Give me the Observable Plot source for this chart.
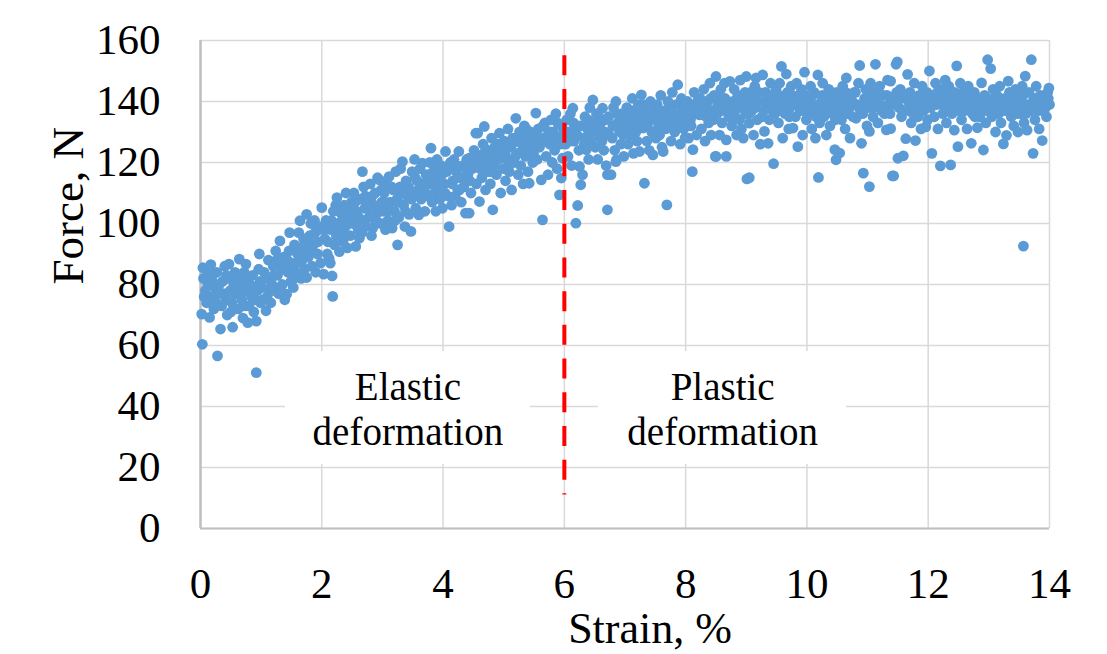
<!DOCTYPE html>
<html>
<head>
<meta charset="utf-8">
<script src="https://cdn.jsdelivr.net/npm/d3@7"></script>
<script src="https://cdn.jsdelivr.net/npm/@observablehq/plot@0.6"></script>
<style>
  html, body { margin: 0; padding: 0; background: #fff; }
</style>
</head>
<body>
<div id="chart"></div>
<script>
// Tick values
const xTicks = [0, 2, 4, 6, 8, 10, 12, 14];
const yTicks = [0, 20, 40, 60, 80, 100, 120, 140, 160];

const points = [
[0.02,70.3],[0.03,60.4],[0.05,82],[0.04,85.5],[0.08,78],[0.1,74],[0.12,80],[0.15,69.2],[0.17,86.5],[0.18,76],[0.2,83],[0.22,72],[0.24,79],
[0.28,56.6],[0.27,84],[0.3,77],[0.33,65.4],[0.35,73],[0.36,81],[0.4,86],[0.42,75],[0.44,70],[0.46,82],[0.47,86.7],[0.49,78],
[0.53,66],[0.52,74],[0.55,80],[0.57,84],[0.6,77],[0.62,72],[0.64,88.3],[0.66,81],[0.68,75],[0.7,69],[0.72,84],[0.74,78],
[0.75,86.7],[0.78,67.5],[0.8,73],[0.82,80],[0.84,76],[0.86,83],[0.88,71],[0.92,68],[0.92,51.1],[0.94,78],[0.96,85],[0.97,90],[0.99,74],
[1.02,79],[1.05,84],[1.08,71.4],[1.1,76],[1.12,88],[1.14,82],[1.16,74],[1.18,80],[1.2,86],[1.22,78],[1.24,91],
[1.27,83],[1.29,77],[1.31,94.3],[1.33,86],[1.35,80],[1.37,89],[1.39,75],[1.42,76.8],[1.44,84],[1.46,91],[1.47,97],[1.49,81],
[1.51,87],[1.53,79],[1.55,93],[1.57,84],[1.6,90],[1.62,97],[1.64,100.9],[1.66,82],[1.68,88],[1.7,95],[1.72,85],[1.74,92],
[1.75,103],[1.75,82.3],[1.78,89],[1.8,96],[1.82,100],[1.84,86],[1.86,93],[1.88,101],[1.9,84],[1.93,90],[1.95,98],[1.98,87],[2.0,105.2],
[2.03,83.4],[2.05,95],[2.07,101],[2.09,90],[2.12,88.6],[2.14,87],[2.15,98],[2.17,82.8],[2.18,76.1],[2.19,104],[2.21,93],[2.23,106],[2.24,96],
[2.25,108.5],[2.27,100],[2.29,90.8],[2.31,97],[2.33,103],[2.35,94],[2.37,106],[2.39,99],[2.4,110],[2.42,92],[2.44,102],[2.47,96],[2.49,107],
[2.51,100],[2.53,110],[2.56,92.5],[2.58,104],[2.6,98],[2.62,95.2],[2.64,108],[2.65,101],[2.67,117],[2.69,112],[2.71,105],[2.73,99],
[2.76,108],[2.78,102],[2.8,113],[2.82,96],[2.84,98.5],[2.86,106],[2.88,110],[2.9,103],[2.92,115],[2.95,114.3],[2.97,100],[2.99,107],
[3.01,104],[3.03,110],[3.05,98],[3.07,113],[3.09,101],[3.11,115.4],[3.13,107],[3.16,98.5],[3.18,111],[3.2,104],[3.22,117],[3.24,108],
[3.25,93],[3.27,102],[3.29,112],[3.3,118],[3.33,120.3],[3.35,106],[3.37,99],[3.39,114],[3.41,109],[3.44,103],[3.47,97.4],[3.49,117],
[3.51,110],[3.53,121],[3.55,105],[3.57,114],[3.6,102.8],[3.62,118],[3.64,108],[3.66,119.8],[3.68,112],[3.7,104],[3.72,116],[3.74,109],
[3.76,113],[3.78,120],[3.8,124.7],[3.82,107],[3.84,117],[3.86,110],[3.88,104],[3.9,121],[3.92,115],[3.95,108],[3.97,119],[3.99,105],
[4.02,113],[4.04,123.6],[4.06,117],[4.08,109],[4.1,99],[4.12,120],[4.14,106],[4.16,114],[4.18,121],[4.2,108.9],[4.22,117],[4.24,111],
[4.26,123.6],[4.28,115],[4.3,107],[4.32,119],[4.34,112],[4.37,103.4],[4.39,121],[4.41,116],[4.43,121.4],[4.43,103.4],[4.46,110],[4.48,118],
[4.51,124],[4.54,129.6],[4.55,113],[4.57,129.6],[4.58,119],[4.6,107.2],[4.62,122],[4.64,115],[4.66,126],[4.68,131.8],[4.7,111],[4.72,120],[4.74,117],
[4.76,124],[4.78,113],[4.8,128],[4.82,104.5],[4.84,119],[4.86,122],[4.88,116],[4.9,126],[4.93,129.6],[4.95,110],[4.97,123],[4.99,118],
[5.01,127],[5.03,114],[5.05,121],[5.07,131],[5.09,117],[5.11,125],[5.13,111],[5.15,128],[5.17,120],[5.2,134.5],[5.22,123],[5.24,116],
[5.26,130],[5.28,119],[5.3,126],[5.32,113],[5.34,132],[5.36,122],[5.38,128],[5.4,117],[5.42,113.2],[5.44,130],[5.46,124],[5.48,120],
[5.51,127],[5.53,136.2],[5.55,121],[5.57,131],[5.59,125],[5.62,114.3],[5.64,101.2],[5.66,128],[5.68,133],[5.7,122],[5.73,116],[5.74,130],
[5.76,126],[5.78,134],[5.8,120],[5.82,130],[5.84,124],[5.86,136],[5.88,118],[5.9,128],[5.92,109.4],[5.95,114.9],[5.96,132],[5.97,121.4],
[6.02,126],[6.04,134],[6.06,122],[6.08,130],[6.1,136],[6.12,119],[6.14,137.8],[6.16,127],[6.19,100.1],[6.22,105.9],[6.2,132],[6.24,124],
[6.25,118.7],[6.27,112.7],[6.3,116],[6.32,128],[6.34,135],[6.36,124.2],[6.38,131],[6.4,121],[6.42,138],[6.44,127],[6.47,140.5],[6.49,133],
[6.51,125],[6.53,136],[6.55,121],[6.58,128.5],[6.6,133],[6.63,137.8],[6.65,124],[6.67,130],[6.69,119],[6.71,116],[6.71,104.5],[6.73,135],
[6.77,116],[6.79,128],[6.81,138],[6.83,124],[6.85,140],[6.85,120.3],[6.86,120.9],[6.88,133],[6.91,130.2],[6.93,126],[6.95,136],[6.98,122],
[7.01,131],[7.03,138],[7.05,126],[7.08,134.5],[7.1,129],[7.12,141],[7.14,123],[7.16,136],[7.18,130],[7.2,127],[7.22,139],[7.24,123.6],
[7.27,142.2],[7.28,133],[7.3,131.3],[7.32,113.2],[7.34,137],[7.36,127],[7.38,135],[7.4,124],[7.42,140],[7.44,130],[7.46,122.5],[7.48,136],
[7.51,128],[7.53,139],[7.55,133],[7.57,129],[7.59,142],[7.61,125],[7.63,123.6],[7.65,137],[7.67,131],[7.69,106.1],[7.71,140],[7.74,134.5],
[7.76,127],[7.78,143],[7.8,136],[7.82,130],[7.84,139],[7.87,145.5],[7.89,133],[7.91,126],[7.93,141],[7.95,137],[7.97,131],[7.99,128],
[8.01,135],[8.03,140],[8.05,128],[8.07,138],[8.09,132],[8.11,117],[8.12,124.2],[8.14,143],[8.16,136],[8.18,129],[8.21,141],[8.23,135.6],
[8.26,131],[8.28,138],[8.3,144],[8.32,127],[8.34,135],[8.36,140],[8.38,133],[8.4,146],[8.42,129],[8.44,137],[8.47,142],[8.49,122],
[8.5,148.2],[8.5,122],[8.52,136],[8.54,141],[8.56,129],[8.58,144],[8.6,133],[8.62,139],[8.64,146],[8.67,127.4],[8.67,122],[8.69,137],[8.73,146.6],
[8.76,132],[8.78,140],[8.8,144],[8.82,135],[8.84,129],[8.86,142],[8.88,138],[8.9,147],[8.92,131],[8.95,128],[8.97,141],[8.99,136],
[9.0,148.2],[9.01,114.6],[9.03,139],[9.05,132.9],[9.05,115],[9.07,143],[9.09,137],[9.12,129],[9.14,145],[9.16,147.7],[9.18,134],[9.2,140],[9.23,126],
[9.27,148.7],[9.29,137],[9.3,130.2],[9.32,143],[9.34,139],[9.36,126.3],[9.38,134],[9.4,146],[9.42,141],[9.45,119.6],[9.47,136],[9.49,144],
[9.51,139],[9.53,133],[9.55,146],[9.58,151.5],[9.6,128],[9.62,141],[9.64,136],[9.66,149],[9.68,143],[9.7,131],[9.72,138],[9.74,145],
[9.77,131.3],[9.79,140],[9.81,135],[9.83,146],[9.85,125.2],[9.87,142],[9.89,137],[9.91,144],[9.93,129],[9.96,149.6],[9.98,139],[9.99,134],
[10.02,141],[10.04,136],[10.06,145],[10.08,131],[10.1,139],[10.12,143],[10.14,128],[10.16,137],[10.18,148.7],[10.19,115.1],[10.21,133],[10.24,140],
[10.26,146],[10.28,135],[10.3,142],[10.32,129],[10.34,138],[10.36,144],[10.38,132],[10.4,140],[10.42,136],[10.46,124.2],[10.48,120.9],[10.49,143],
[10.51,137],[10.54,123.1],[10.55,141],[10.57,134],[10.59,145],[10.61,139],[10.63,131],[10.65,147.7],[10.67,136],[10.69,142],[10.71,128],[10.73,140],
[10.76,135],[10.78,143],[10.81,134.5],[10.83,139],[10.85,146],[10.87,151.8],[10.89,137],[10.9,126.3],[10.93,116.5],[10.95,141],[10.97,144],[10.99,132],
[11.01,138],[11.03,112.1],[11.03,130.2],[11.05,146],[11.07,141],[11.09,135],[11.11,143],[11.13,152.2],[11.15,139],[11.17,133],[11.2,145],[11.23,137],
[11.26,142],[11.28,136],[11.31,130.7],[11.33,147],[11.35,139],[11.38,146.7],[11.38,131.1],[11.41,115.6],[11.43,115.6],[11.45,141],[11.47,152.2],[11.49,153],
[11.5,121.4],[11.52,138],[11.54,144],[11.56,135],[11.59,122.2],[11.61,141],[11.63,127.8],[11.66,148.9],[11.68,137],[11.7,143],[11.72,133],[11.74,140],
[11.77,146],[11.79,127.2],[11.81,139],[11.83,135],[11.85,142],[11.88,131],[11.9,145],[11.92,137],[11.94,140],[11.96,131.7],[11.98,143],[11.99,134],
[12.02,150],[12.04,138],[12.06,123],[12.08,142],[12.1,135],[12.12,146],[12.14,139],[12.16,131],[12.2,118.9],[12.22,144],[12.24,136],
[12.26,141],[12.28,147],[12.3,133],[12.32,139],[12.34,145],[12.37,119.2],[12.39,136],[12.41,142],[12.43,130.6],[12.45,138],[12.47,151.7],[12.49,125.2],
[12.51,140],[12.53,146],[12.55,134],[12.57,143],[12.6,137],[12.62,141],[12.64,131],[12.66,145],[12.68,139],[12.71,126.3],[12.73,136],
[12.76,143],[12.78,138],[12.81,131.4],[12.83,141],[12.85,135],[12.88,146.1],[12.9,139],[12.91,124.1],[12.93,142],[12.95,133],[12.98,153.7],[12.99,137],
[13.01,140],[13.03,150.8],[13.05,135],[13.07,144],[13.09,138],[13.11,130],[13.13,142],[13.16,136],[13.18,145],[13.2,133],[13.22,139],[13.24,126.1],
[13.27,141],[13.29,128.9],[13.31,137],[13.32,146.7],[13.34,143],[13.37,135],[13.39,140],[13.41,132],[13.44,144],[13.46,138],[13.48,130],
[13.51,141],[13.53,136],[13.55,145],[13.57,92.6],[13.58,133],[13.6,148.3],[13.62,139],[13.63,130.6],[13.66,143],[13.68,137],[13.7,153.7],[13.73,123],[13.74,141],
[13.76,134],[13.78,145],[13.8,139],[13.83,131],[13.85,142],[13.88,127.2],[13.9,137],[13.92,140],[13.95,135],[13.97,143],[13.99,144.4],[14.0,139]
];

// Further readings from the dense core of the cloud
const pointsCore = [
[0.06,76],[0.13,84],[0.19,81],[0.26,74],[0.31,80],[0.38,77],[0.43,83],[0.5,71],[0.56,77],[0.61,82],[0.67,79],[0.73,73],[0.79,82],[0.85,79],[0.9,75],[0.98,81],
[1.03,75],[1.09,82],[1.15,78],[1.21,83],[1.26,88],[1.32,79],[1.38,85],[1.43,88],[1.48,86],[1.54,82],[1.59,87],[1.65,92],[1.71,89],[1.76,94],[1.83,91],[1.89,97],[1.94,94],[1.99,99],
[2.04,98],[2.1,94],[2.16,101],[2.22,99],[2.28,104],[2.34,101],[2.38,96],[2.45,105],[2.5,103],[2.55,107],[2.61,102],[2.66,97],[2.72,109],[2.77,105],[2.83,109],[2.89,100],[2.94,105],[2.98,111],
[3.04,107],[3.1,104],[3.15,112],[3.21,101],[3.26,107],[3.32,110],[3.38,104],[3.43,112],[3.48,108],[3.54,115],[3.59,111],[3.65,113],[3.71,110],[3.77,116],[3.83,113],[3.89,118],[3.94,112],[3.98,116],
[4.03,110],[4.09,118],[4.15,113],[4.21,119],[4.27,111],[4.33,115],[4.38,118],[4.44,114],[4.5,119],[4.56,122],[4.61,118],[4.67,123],[4.73,121],[4.79,117],[4.85,125],[4.91,121],[4.96,126],
[5.02,123],[5.08,119],[5.14,126],[5.19,122],[5.25,128],[5.31,124],[5.37,131],[5.43,126],[5.49,123],[5.54,129],[5.6,126],[5.65,132],[5.71,127],[5.77,130],[5.83,127],[5.89,133],[5.94,126],[5.99,130],
[6.03,130],[6.09,127],[6.15,133],[6.21,129],[6.26,132],[6.33,126],[6.39,134],[6.45,130],[6.52,131],[6.57,135],[6.62,127],[6.68,134],[6.74,129],[6.8,132],[6.87,136],[6.92,133],[6.97,129],
[7.02,135],[7.07,132],[7.13,137],[7.19,133],[7.25,136],[7.31,139],[7.37,132],[7.43,134],[7.49,138],[7.54,131],[7.6,136],[7.66,134],[7.72,137],[7.79,132],[7.85,135],[7.9,139],[7.96,134],
[8.02,138],[8.08,134],[8.13,139],[8.19,137],[8.24,141],[8.3,136],[8.35,138],[8.41,141],[8.46,134],[8.53,139],[8.59,137],[8.65,141],[8.71,135],[8.77,138],[8.83,140],[8.89,134],[8.94,139],[8.98,143],
[9.04,136],[9.1,141],[9.15,138],[9.21,143],[9.26,135],[9.31,140],[9.37,142],[9.43,137],[9.48,140],[9.54,142],[9.59,137],[9.65,140],[9.71,135],[9.76,142],[9.82,139],[9.88,141],[9.94,137],[9.97,142],
[10.03,138],[10.09,142],[10.15,135],[10.2,139],[10.25,142],[10.31,137],[10.37,141],[10.43,139],[10.47,134],[10.53,140],[10.58,137],[10.64,143],[10.7,138],[10.75,140],[10.8,143],[10.86,138],[10.92,136],[10.98,140],
[11.04,142],[11.1,138],[11.16,141],[11.21,139],[11.27,138],[11.32,142],[11.37,136],[11.44,139],[11.48,143],[11.53,141],[11.58,137],[11.64,142],[11.69,139],[11.75,136],[11.8,141],[11.86,138],[11.91,142],[11.97,139],
[12.03,141],[12.09,139],[12.15,143],[12.21,140],[12.27,137],[12.33,142],[12.38,140],[12.44,143],[12.5,137],[12.56,140],[12.61,138],[12.67,142],[12.72,140],[12.77,135],[12.82,138],[12.87,140],[12.92,137],[12.97,141],
[13.02,138],[13.08,141],[13.14,139],[13.19,141],[13.25,137],[13.3,140],[13.36,138],[13.42,141],[13.47,136],[13.52,139],[13.56,142],[13.61,136],[13.67,139],[13.72,137],[13.77,141],[13.82,137],[13.87,140],[13.93,138],[13.98,141]
];

// Annotations
const boundaryStrain = [6];
const boundaryForce = [155, 11];
const regionLabels = ["Elastic\ndeformation", "Plastic\ndeformation"];
const regionCenters = [3.42, 8.61];
const regionLabelForce = 39.5;
const regionBoxes = [[1.4, 5.44], [6.56, 10.65]];
const regionBoxForce = [21, 58];

const dots = points.concat(pointsCore).map(([x, y]) => ({x, y}));
const labels = regionLabels.map((t, i) => ({text: t, x: regionCenters[i], y: regionLabelForce}));
const boxes = regionBoxes.map(([a, b]) => ({x1: a, x2: b, y1: regionBoxForce[0], y2: regionBoxForce[1]}));

const font = "'Liberation Serif', 'Times New Roman', serif";

const chart = Plot.plot({
  width: 1107,
  height: 654,
  marginLeft: 200,
  marginRight: 58,
  marginTop: 40,
  marginBottom: 126,
  style: {fontFamily: font, fontSize: "43px", color: "#000", background: "#fff"},
  x: {domain: [0, 14], ticks: xTicks, tickSize: 0, tickPadding: 39, label: null},
  y: {domain: [0, 160], ticks: yTicks, tickSize: 0, tickPadding: 40, label: null},
  marks: [
    Plot.ruleX(xTicks, {stroke: "#d9d9d9", strokeWidth: 1.5}),
    Plot.ruleY(yTicks, {stroke: "#d9d9d9", strokeWidth: 1.5}),
    Plot.ruleX([0], {stroke: "#bfbfbf", strokeWidth: 2.5}),
    Plot.ruleY([0], {stroke: "#bfbfbf", strokeWidth: 2}),
    Plot.dot(dots, {x: "x", y: "y", r: 5.4, fill: "#5b9bd5", stroke: "none"}),
    Plot.rect(boxes, {x1: "x1", x2: "x2", y1: "y1", y2: "y2", fill: "#fff"}),
    Plot.ruleX(boundaryStrain, {y1: boundaryForce[0], y2: boundaryForce[1], stroke: "#ff0000", strokeWidth: 4, strokeDasharray: "20,13.7"}),
    Plot.text(labels, {x: "x", y: "y", text: "text", lineHeight: 1.16, fontSize: 39, fill: "#000"}),
    Plot.text(["Strain, %"], {frameAnchor: "bottom", dx: 25, dy: 100, lineAnchor: "middle", fontSize: 44, fill: "#000"}),
    Plot.text(["Force, N"], {frameAnchor: "left", dx: -132, rotate: -90, lineAnchor: "middle", fontSize: 45, fill: "#000"})
  ]
});

document.getElementById("chart").appendChild(chart);
</script>
</body>
</html>
